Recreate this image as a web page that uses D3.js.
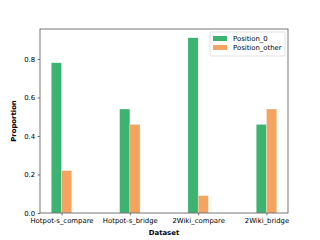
<!DOCTYPE html>
<html>
<head>
<meta charset="utf-8">
<script src="https://cdn.jsdelivr.net/npm/d3@7"></script>
<style>
  body { margin: 0; background: #fff; }
  text { font-family: "DejaVu Sans", sans-serif; }
</style>
</head>
<body>
<div id="viz"></div>
<script>
const datasets = ["Hotpot-s_compare", "Hotpot-s_bridge", "2Wiki_compare", "2Wiki_bridge"];
const position0 = [0.78, 0.54, 0.91, 0.46];
const positionOther = [0.22, 0.46, 0.09, 0.54];
const yTicks = [0.0, 0.2, 0.4, 0.6, 0.8];

const width = 320;
const height = 240;
const margin = { left: 40, right: 32, top: 29, bottom: 27 };

const svg = d3.select("#viz").append("svg")
    .attr("width", width)
    .attr("height", height);

const barW = 0.15;
const x = d3.scaleLinear()
    .domain([-0.315, 3.315])
    .range([margin.left, width - margin.right]);
const y = d3.scaleLinear()
    .domain([0, 0.91 * 1.05])
    .range([height - margin.bottom, margin.top]);

const series = [
    { name: "Position_0", values: position0, color: "#3cb371", offset: -barW / 2 },
    { name: "Position_other", values: positionOther, color: "#f4a460", offset: barW / 2 }
];

series.forEach(s => {
    svg.append("g").selectAll("rect")
        .data(s.values)
        .enter()
        .append("rect")
        .attr("x", (d, i) => x(i + s.offset - barW / 2))
        .attr("width", x(barW) - x(0))
        .attr("y", d => y(d))
        .attr("height", d => y(0) - y(d))
        .attr("fill", s.color)
        .attr("stroke", "#fff")
        .attr("stroke-opacity", 0.5)
        .attr("stroke-width", 0.5);
});

// axes
const xAxis = d3.axisBottom(x)
    .tickValues(d3.range(datasets.length))
    .tickFormat(i => datasets[i])
    .tickSize(2.4)
    .tickPadding(2.4);
const yAxis = d3.axisLeft(y)
    .tickValues(yTicks)
    .tickFormat(d3.format(".1f"))
    .tickSize(2.4)
    .tickPadding(2.4);

const gx = svg.append("g")
    .attr("transform", `translate(0,${height - margin.bottom})`)
    .call(xAxis);
const gy = svg.append("g")
    .attr("transform", `translate(${margin.left},0)`)
    .call(yAxis);

[gx, gy].forEach(g => {
    g.select(".domain").remove();
    g.selectAll("line").attr("stroke", "#333").attr("stroke-width", 0.7);
    g.selectAll("text").style("font-size", "6.9px").attr("fill", "#000")
        .style("font-family", "DejaVu Sans, sans-serif");
});

// frame
svg.append("rect")
    .attr("x", margin.left)
    .attr("y", margin.top)
    .attr("width", width - margin.left - margin.right)
    .attr("height", height - margin.top - margin.bottom)
    .attr("fill", "none")
    .attr("stroke", "#555")
    .attr("stroke-width", 0.8);

svg.append("text")
    .attr("x", (margin.left + width - margin.right) / 2)
    .attr("y", 235)
    .attr("text-anchor", "middle")
    .style("font-size", "6.9px")
    .style("font-weight", "bold")
    .text("Dataset");

svg.append("text")
    .attr("transform", `translate(16,${(margin.top + height - margin.bottom) / 2}) rotate(-90)`)
    .attr("text-anchor", "middle")
    .style("font-size", "6.9px")
    .style("font-weight", "bold")
    .text("Proportion");

// legend
const legend = svg.append("g").attr("transform", "translate(210,32)");
legend.append("rect")
    .attr("width", 75)
    .attr("height", 24)
    .attr("rx", 1.5)
    .attr("fill", "#fff")
    .attr("fill-opacity", 0.8)
    .attr("stroke", "#ccc")
    .attr("stroke-width", 0.6);

series.forEach((s, i) => {
    legend.append("rect")
        .attr("x", 3)
        .attr("y", 4 + i * 9)
        .attr("width", 14)
        .attr("height", 5)
        .attr("fill", s.color);
    legend.append("text")
        .attr("x", 23)
        .attr("y", 6.5 + i * 9)
        .attr("dominant-baseline", "central")
        .style("font-size", "6.9px")
        .text(s.name);
});
</script>
</body>
</html>
